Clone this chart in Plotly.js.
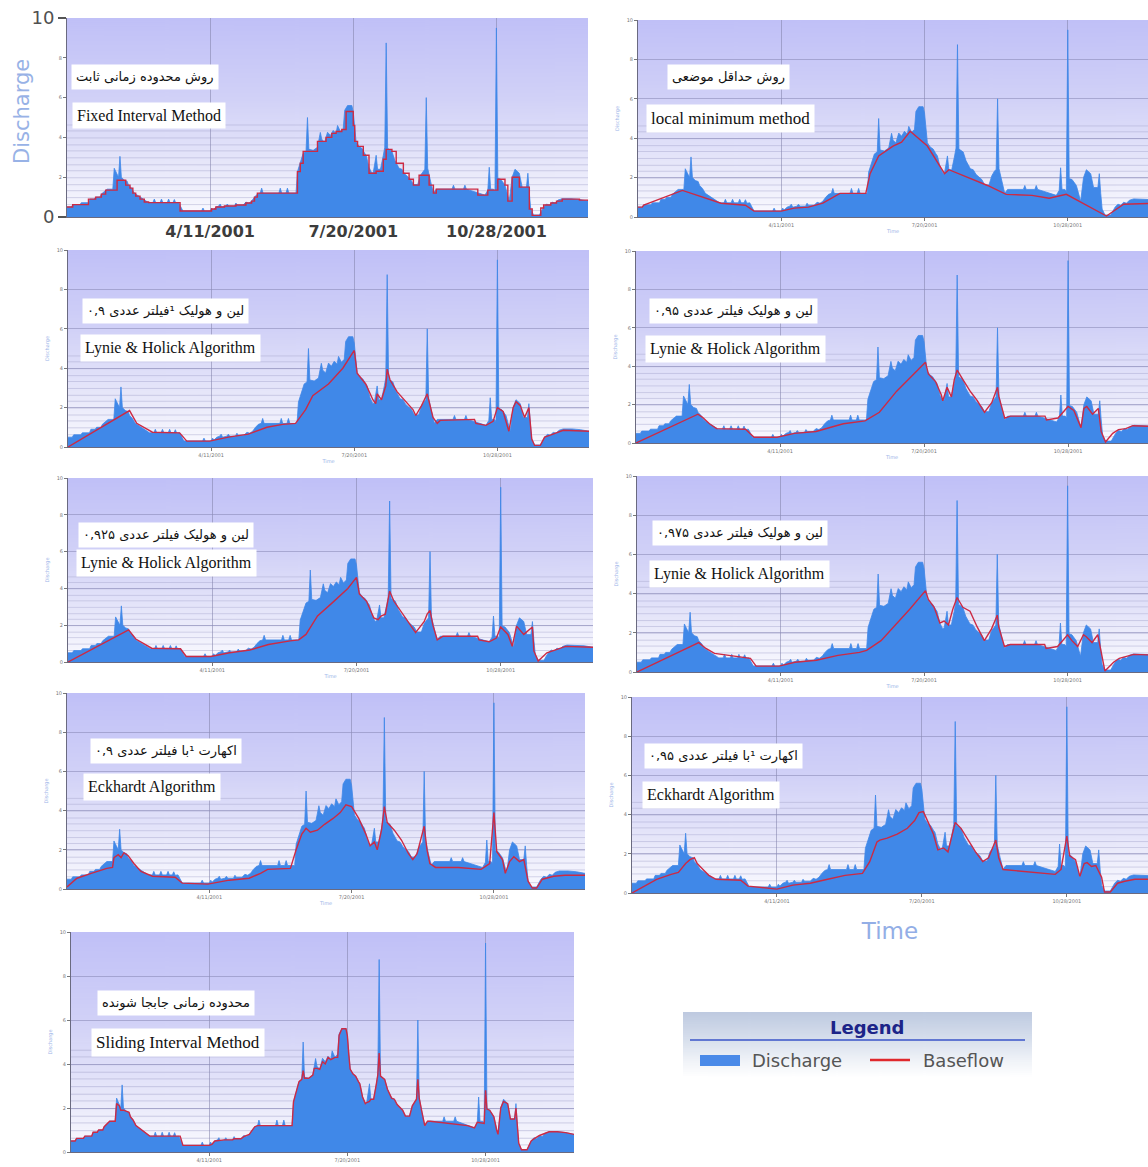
<!DOCTYPE html>
<html><head><meta charset="utf-8">
<script src="https://cdn.plot.ly/plotly-3.0.1.min.js"></script>
<style>html,body{margin:0;padding:0;background:#fff;overflow:hidden}#chart{width:1148px;height:1167px}</style>
</head><body><div id="chart"></div>
<script>
// ---------- DATA (day of year 2001, 0 = 1 Jan) ----------
const qDay = [0,3,4,9,10,15,16,19,20,23, 24,26,28,32,33,34,35,36,37,38, 40,42,43,45,47,49,51,53,55,57, 60,61,62,65,66,67,70,71,72,74, 75,76,78,79,81,94,95,96,100,101, 102,104,106,107,108,111,112,113,117,118, 119,123,125,127,129,131,133,135,136,137, 148,149,150,153,154,155,160,161,163,165, 167,168,169,172,175,176,177,178,180,182, 184,186,188,189,191,193,194,196,199,200, 201,202,204,206,208,209,211,213,214,216, 217,219,221,222,223,224,227,229,232,234, 236,240,242,245,247,249,250,251,252,254, 256,258,260,269,270,271,277,278,279,287, 292,294,295,296,298,299,300,301,303,306, 308,309,311,313,316,318,321,322,323,324, 326,330,333,335,337,339,341,343,346,352, 358,364];
const qVal = [0.5,0.5,0.62,0.62,0.72,0.72,0.9,0.9,1.0,1.0, 1.15,1.3,1.4,1.4,2.45,2.3,2.1,2.0,3.05,2.0, 1.85,1.8,1.6,1.45,1.2,1.1,1.0,0.9,0.8,0.72, 0.72,0.9,0.72,0.72,0.9,0.72,0.72,0.9,0.72,0.72, 0.88,0.7,0.72,0.55,0.3,0.3,0.45,0.3,0.3,0.45, 0.35,0.5,0.55,0.65,0.5,0.55,0.65,0.55,0.55,0.7, 0.6,0.6,0.75,0.7,0.8,1.0,1.15,1.2,1.45,1.2, 1.2,1.45,1.2,1.2,1.45,1.2,1.2,2.28,2.7,3.2, 3.3,5.0,3.4,3.35,3.5,3.82,4.25,3.9,3.76,4.26, 4.1,4.35,4.2,4.6,4.3,4.45,5.36,5.6,5.6,5.28, 4.45,3.77,3.55,3.45,3.2,3.1,2.5,2.2,2.25,3.1, 2.4,2.4,3.1,3.5,8.75,3.45,3.3,2.85,2.45,2.4, 2.16,1.9,1.63,1.63,2.1,2.35,2.4,6.0,2.45,1.8, 1.2,1.4,1.4,1.4,1.6,1.4,1.4,1.6,1.4,1.2, 1.1,1.35,2.5,1.4,1.4,1.3,9.5,1.95,1.9,1.6, 1.0,0.8,2.0,2.4,2.2,1.5,1.5,2.2,1.2,0.4, 0.1,0.1,0.5,0.65,0.6,0.75,0.7,0.85,0.92,0.92, 0.88,0.8];

// Fixed interval baseflow (step)
const fiDay = [0,4,15,20,24,27,35,41,44,46, 48,51,54,57,79,101,104,110,118,125, 129,131,133,161,163,165,175,181,185,188, 192,195,200,201,203,207,211,216,221,223, 227,230,235,239,242,246,253,256,258,287, 294,301,306,308,311,316,323,325,331,333, 338,342,346,358,364];
const fiVal = [0.5,0.62,0.9,1.0,1.15,1.35,1.85,1.6,1.45,1.2, 1.05,0.9,0.75,0.72,0.3,0.4,0.5,0.55,0.6,0.7, 0.8,1.0,1.2,2.28,2.7,3.3,3.8,4.0,4.2,4.3, 4.4,5.3,4.6,3.8,3.55,3.1,2.2,2.3,2.9,3.4, 3.3,2.7,2.2,1.9,1.6,2.1,1.6,1.2,1.4,1.1, 1.35,1.9,1.6,0.8,2.0,1.5,0.4,0.08,0.45,0.6, 0.7,0.8,0.9,0.85,0.8];
// Local minimum baseflow
const lmDay = [0,3,4,31,58,75,81,100,109,119, 129,137,141,159,162,168,178,184,190,202, 214,217,244,257,275,287,299,327,339,364];
const lmVal = [0.5,0.5,0.6,1.35,0.7,0.6,0.3,0.3,0.45,0.5, 0.7,1.05,1.2,1.2,2.2,3.1,3.6,3.8,4.35,3.6, 2.2,2.4,1.6,1.15,1.1,0.95,1.15,0.05,0.65,0.7];
// Lyne & Hollick 0.9
const lh90Day = [0,43,48,54,59,78,83,99,112,126, 139,150,159,166,171,182,192,200,202,208, 213,215,216,219,222,223,225,230,235,241, 243,247,251,252,255,258,260,284,285,292, 297,300,304,308,311,313,316,319,322,324, 326,330,333,337,341,346,364];
const lh90Val = [0,1.85,1.2,0.95,0.75,0.72,0.3,0.3,0.5,0.65, 1.0,1.15,1.2,1.9,2.6,3.2,4.0,4.9,3.75,3.2, 2.4,2.2,2.7,2.4,3.1,3.95,3.4,2.8,2.4,1.9, 1.6,2.1,2.7,2.4,1.5,1.2,1.35,1.4,1.2,1.1, 1.3,2.0,1.8,0.8,2.0,2.3,2.1,1.5,2.0,0.4, 0.08,0.08,0.5,0.6,0.7,0.85,0.8];
// Lyne & Hollick 0.95
const lh95Day = [0,43,46,51,56,76,82,98,110,125, 139,144,159,169,181,193,201,203,208,212, 213,216,219,221,223,227,232,237,242,247, 251,252,256,260,284,285,293,300,304,309, 311,313,317,321,323,326,331,335,340,345, 364];
const lh95Val = [0,1.5,1.35,1.0,0.75,0.72,0.3,0.3,0.5,0.6, 0.9,1.0,1.15,1.6,2.7,3.6,4.2,3.6,3.2,2.5, 2.2,2.9,2.4,3.3,3.8,3.3,2.7,2.2,1.6,2.1, 2.9,2.4,1.3,1.4,1.4,1.2,1.3,1.9,1.7,0.8, 1.8,1.9,1.5,1.8,0.6,0.05,0.5,0.7,0.75,0.9, 0.85];
// Lyne & Hollick 0.925
const lh925Day = [0,42,47,53,58,78,82,99,112,126, 139,154,160,165,173,183,194,200,202,207, 212,215,217,220,223,226,233,241,247,249, 251,253,256,260,284,285,292,297,300,305, 308,311,316,322,323,326,332,340,345,364];
const lh925Val = [0,1.75,1.25,1.0,0.75,0.72,0.3,0.3,0.5,0.65, 0.95,1.15,1.2,1.5,2.5,3.2,4.0,4.6,3.7,3.3, 2.4,2.3,2.5,2.6,3.85,3.3,2.5,1.6,2.2,2.6, 2.8,2.0,1.2,1.4,1.4,1.2,1.1,1.3,1.9,1.5, 0.85,1.95,1.5,1.9,0.6,0.05,0.5,0.7,0.85,0.8];
// Lyne & Hollick 0.975
const lh975Day = [0,43,48,54,79,83,99,110,125,140, 155,160,170,180,190,201,203,207,211,214, 217,220,223,227,232,237,242,247,251,252, 256,260,284,285,293,300,303,307,311,313, 317,321,323,326,332,336,341,346,364];
const lh975Val = [0,1.5,1.2,0.95,0.7,0.3,0.3,0.5,0.6,0.85, 1.0,1.1,1.6,2.4,3.2,4.15,3.7,3.3,2.5,2.6, 2.4,3.2,3.8,3.3,3.1,2.3,1.6,2.2,2.9,2.3, 1.3,1.4,1.4,1.2,1.3,1.9,1.6,1.3,1.9,1.8, 1.5,1.9,1.1,0.05,0.5,0.7,0.8,0.9,0.85];
// Eckhardt 0.9
const ek90Day = [0,7,17,28,32,33,36,38,40,43, 47,52,60,76,81,99,114,128,136,141, 157,161,165,168,171,176,181,187,192,196, 200,205,210,213,216,218,221,223,225,230, 235,240,243,246,251,253,255,259,275,291, 297,300,302,306,308,311,314,318,321,324, 327,330,334,342,350,364];
const ek90Val = [0.1,0.55,0.8,1.05,1.1,1.6,1.75,1.6,1.85,1.7, 1.3,0.9,0.65,0.6,0.3,0.25,0.45,0.55,0.8,1.0, 1.05,2.0,2.8,3.1,2.9,3.0,3.3,3.6,3.9,4.3, 4.2,3.6,2.8,2.2,2.4,2.0,3.0,4.2,3.4,3.0, 2.5,1.8,1.5,1.8,3.2,2.0,1.3,1.1,1.1,1.0, 1.3,3.9,1.9,1.5,0.8,1.4,1.65,1.4,1.5,0.4, 0.05,0.05,0.5,0.65,0.7,0.7];
// Eckhardt 0.95
const ek95Day = [0,8,17,27,32,37,40,43,45,49, 53,58,75,80,94,100,111,123,135,147, 159,164,169,171,176,183,190,195,198,201, 205,208,211,215,218,222,223,227,231,237, 242,246,251,253,256,263,280,292,296,300, 302,306,309,312,314,317,320,324,326,330, 335,340,347,364];
const ek95Val = [0,0.35,0.7,0.95,1.05,1.5,1.7,1.8,1.5,1.2, 0.9,0.7,0.65,0.35,0.25,0.2,0.4,0.5,0.7,0.9, 1.0,1.6,2.6,2.7,2.8,3.0,3.3,3.7,4.1,4.15, 3.5,3.0,2.2,2.3,2.1,3.4,3.6,3.3,2.8,2.1, 1.6,1.8,2.7,1.8,1.2,1.15,1.0,0.95,1.2,2.9, 1.9,1.7,0.85,1.5,1.55,1.35,1.4,0.8,0.05,0.05, 0.5,0.6,0.7,0.7];
// Sliding interval baseflow
const siDay = [0,3,4,9,10,15,16,19,20,23, 24,26,28,32,33,35,36,38,40,42, 43,45,47,49,51,53,55,57,79,81, 100,102,104,111,117,118,123,125,129,131, 133,135,160,161,163,165,167,168,169,172, 175,176,178,180,182,184,186,188,191,193, 194,196,199,200,201,202,204,206,208,209, 211,213,214,216,217,219,221,222,223,224, 227,229,232,234,236,240,242,245,247,249, 250,251,252,254,256,258,260,287,292,294, 299,300,301,303,306,308,309,311,313,316, 318,321,322,323,324,326,330,333,335,339, 343,346,352,358,364];
const siVal = [0.5,0.5,0.62,0.62,0.72,0.72,0.9,0.9,1.0,1.0, 1.15,1.3,1.4,1.4,2.2,2.1,1.9,1.9,1.85,1.8, 1.6,1.45,1.2,1.1,1.0,0.9,0.8,0.72,0.72,0.3, 0.3,0.35,0.5,0.55,0.55,0.6,0.6,0.7,0.8,1.0, 1.15,1.2,1.2,2.28,2.7,3.2,3.3,3.7,3.35,3.35, 3.5,3.8,3.8,3.76,4.1,4.0,4.3,4.2,4.3,4.3, 5.3,5.6,5.6,5.28,4.45,3.77,3.55,3.45,3.2,3.1, 2.5,2.2,2.25,2.3,2.4,2.4,3.1,3.5,4.5,3.45, 3.3,2.85,2.45,2.4,2.16,1.9,1.63,1.63,2.1,2.35, 2.4,3.3,2.45,1.8,1.2,1.4,1.4,1.2,1.1,1.35, 1.3,2.8,1.95,1.9,1.6,1.0,0.8,2.0,2.3,2.2, 1.5,1.5,2.0,1.2,0.4,0.1,0.1,0.5,0.6,0.75, 0.85,0.92,0.92,0.88,0.8];

const xTickVals = ['2001-04-11','2001-07-20','2001-10-28'];
const xTickText = ['4/11/2001','7/20/2001','10/28/2001'];
const yTickVals = [0,2,4,6,8,10];
const yTickText = ['0','2','4','6','8','10'];
const yBigVals = [0,10];
const yBigText = ['0','10'];
const ySmallVals = [2,4,6,8];
const ySmallText = ['2','4','6','8'];

// ---------- PANELS ----------
const panels = [
  {bd:fiDay, bv:fiVal, shape:'hv', box:[67,588,18,217], end:364, fa:'روش محدوده زمانی ثابت', en:'Fixed Interval Method', faPos:[71,77], enPos:[72,116], enSize:16},
  {bd:lmDay, bv:lmVal, shape:'linear', box:[638,1148,20,217], end:356, fa:'روش حداقل موضعی', en:'local minimum method', faPos:[667,77], enPos:[646,118], enSize:17},
  {bd:lh90Day, bv:lh90Val, shape:'linear', box:[68,589,250,447], end:364, fa:'لین و هولیک ¹فیلتر عددی ۰,۹', en:'Lynie & Holick Algorithm', faPos:[82,311], enPos:[80,348], enSize:16},
  {bd:lh95Day, bv:lh95Val, shape:'linear', box:[636,1148,251,443], end:355.5, fa:'لین و هولیک فیلتر عددی ۰,۹۵', en:'Lynie & Holick Algorithm', faPos:[649,311], enPos:[645,349], enSize:16},
  {bd:lh925Day, bv:lh925Val, shape:'linear', box:[68,593,478,662], end:364, fa:'لین و هولیک فیلتر عددی ۰,۹۲۵', en:'Lynie & Holick Algorithm', faPos:[78,535], enPos:[76,563], enSize:16},
  {bd:lh975Day, bv:lh975Val, shape:'linear', box:[637,1148,476,672], end:356, fa:'لین و هولیک فیلتر عددی ۰,۹۷۵', en:'Lynie & Holick Algorithm', faPos:[652,533], enPos:[649,574], enSize:16},
  {bd:ek90Day, bv:ek90Val, shape:'linear', box:[67,585,693,889], end:364, fa:'اکهارت ¹با فیلتر عددی ۰,۹', en:'Eckhardt Algorithm', faPos:[90,751], enPos:[83,787], enSize:16},
  {bd:ek95Day, bv:ek95Val, shape:'linear', box:[632,1148,697,893], end:356, fa:'اکهارت ¹با فیلتر عددی ۰,۹۵', en:'Eckhardt Algorithm', faPos:[644,756], enPos:[642,795], enSize:16},
  {bd:siDay, bv:siVal, shape:'linear', box:[71,574,932,1152], end:364, fa:'محدوده زمانی جابجا شونده', en:'Sliding Interval Method', faPos:[97,1003], enPos:[91,1042], enSize:17}
];

const W = 1148, H = 1167;
function dayToDate(d){ const t = Date.UTC(2001,0,1) + Math.round(d*86400000); return new Date(t).toISOString().slice(0,16).replace('T',' '); }
const px = x => x/W, py = y => 1 - y/H;

function gradUrl(stops, lines, w, h){
  const c = document.createElement('canvas'); c.width = w; c.height = h;
  const ctx = c.getContext('2d');
  const g = ctx.createLinearGradient(0,0,0,h);
  stops.forEach(s => g.addColorStop(s[0], s[1]));
  ctx.fillStyle = g; ctx.fillRect(0,0,w,h);
  if (lines) {
    ctx.fillStyle = 'rgba(165,165,205,0.45)';
    for (let k=1;k<=14;k++){ ctx.fillRect(0, Math.round(h - h*k/30), w, 1); }
  }
  return c.toDataURL('image/png');
}
const plotBg = gradUrl([[0,'rgb(192,192,247)'],[0.4,'rgb(209,209,247)'],[0.75,'rgb(232,232,250)'],[1,'rgb(250,250,255)']], true, 8, 200);
const legBg = gradUrl([[0,'rgb(190,202,224)'],[0.4,'rgb(214,222,236)'],[0.75,'rgb(240,243,248)'],[1,'rgb(255,255,255)']], false, 8, 60);

const traces = [], images = [], annotations = [], shapes = [];
const layout = {
  width: W, height: H, margin:{l:0,r:0,t:0,b:0}, paper_bgcolor:'#ffffff', plot_bgcolor:'rgba(0,0,0,0)',
  showlegend:false, font:{family:'DejaVu Sans', color:'#666'}
};
const blue = '#4088e8', red = '#cc2a44', faint = '#9ab4e8';

panels.forEach((p, i) => {
  const s = i === 0 ? '' : String(i+1);
  const [l, r, t, b] = p.box;
  traces.push({type:'scatter', mode:'lines', name:'Discharge', x:qDay.map(dayToDate), y:qVal, xaxis:'x'+s, yaxis:'y'+s,
    fill:'tozeroy', fillcolor:blue, line:{color:blue, width:0.8}, hoverinfo:'skip'});
  traces.push({type:'scatter', mode:'lines', name:'Baseflow', x:p.bd.map(dayToDate), y:p.bv, xaxis:'x'+s, yaxis:'y'+s,
    line:{color:red, width:1.4, shape:p.shape}, hoverinfo:'skip'});
  const xa = {
    domain:[px(l), px(r)], anchor:'y'+s, type:'date', range:[dayToDate(0), dayToDate(p.end)],
    tickmode:'array', tickvals:xTickVals, ticktext:xTickText, tickfont:{size:5, color:'#777'},
    ticks:'outside', ticklen:3, tickcolor:'#777', showgrid:true, gridcolor:'rgba(130,130,170,0.55)', gridwidth:1,
    showline:true, linecolor:'#6a6a80', linewidth:1, zeroline:false,
    title:{text:'Time', font:{size:5, color:faint}, standoff:2}
  };
  const ya = {
    domain:[py(b), py(t)], anchor:'x'+s, range:[0,10], tickmode:'array', tickvals:yTickVals, ticktext:yTickText,
    tickfont:{size:5, color:'#777'}, ticks:'outside', ticklen:3, tickcolor:'#777',
    showgrid:true, gridcolor:'rgba(140,140,185,0.6)', gridwidth:1, showline:true, linecolor:'#6a6a80', linewidth:1, zeroline:false,
    title:{text:'Discharge', font:{size:5, color:faint}, standoff:6}
  };
  if (i === 0) {
    xa.tickfont = {size:16, color:'#3c3c3c', family:'DejaVu Sans', weight:'bold'};
    xa.ticklen = 0; delete xa.title;
    // big labels 0 and 10 on the main axis, tiny 2..8 on an overlaying axis
    ya.tickvals = yBigVals; ya.ticktext = yBigText;
    ya.tickfont = {size:18, color:'#505050', family:'DejaVu Sans'};
    ya.ticklen = 8; ya.tickcolor = '#555'; ya.tickwidth = 1.5;
    delete ya.title;
    layout.yaxis10 = {overlaying:'y', anchor:'x', side:'left', range:[0,10], tickmode:'array', tickvals:ySmallVals, ticktext:ySmallText,
      tickfont:{size:5, color:'#777'}, ticks:'outside', ticklen:3, tickcolor:'#777', showgrid:false, showline:false, zeroline:false};
    traces.push({type:'scatter', mode:'lines', x:[], y:[], xaxis:'x', yaxis:'y10', hoverinfo:'skip', showlegend:false});
    annotations.push({text:'Discharge', xref:'paper', yref:'paper', x:px(22), y:py(112), xanchor:'center', yanchor:'middle',
      textangle:-90, showarrow:false, font:{size:21, color:'#98b2e6', family:'DejaVu Sans'}});
  }
  if (i === 7) {
    xa.title = {text:'Time', font:{size:23, color:'#93aee6', family:'DejaVu Sans'}, standoff:19};
  }
  if (i === 8) { delete xa.title; }
  layout['xaxis'+s] = xa; layout['yaxis'+s] = ya;
  images.push({source:plotBg, xref:'paper', yref:'paper', x:px(l), y:py(t), sizex:px(r)-px(l), sizey:py(t)-py(b),
    sizing:'stretch', xanchor:'left', yanchor:'top', layer:'below'});
  annotations.push({text:p.fa, xref:'paper', yref:'paper', x:px(p.faPos[0]), y:py(p.faPos[1]), xanchor:'left', yanchor:'middle',
    showarrow:false, bgcolor:'#ffffff', borderpad:4, font:{family:'DejaVu Sans', size:13, color:'#111'}});
  annotations.push({text:p.en, xref:'paper', yref:'paper', x:px(p.enPos[0]), y:py(p.enPos[1]), xanchor:'left', yanchor:'middle',
    showarrow:false, bgcolor:'#ffffff', borderpad:4, font:{family:'Liberation Serif', size:p.enSize, color:'#111'}});
});

// ---------- custom legend box ----------
images.push({source:legBg, xref:'paper', yref:'paper', x:px(683), y:py(1012), sizex:px(1032)-px(683), sizey:py(1012)-py(1077),
  sizing:'stretch', xanchor:'left', yanchor:'top', layer:'below'});
shapes.push({type:'line', xref:'paper', yref:'paper', x0:px(690), x1:px(1025), y0:py(1040), y1:py(1040), line:{color:'#3a55c8', width:1.5}});
shapes.push({type:'rect', xref:'paper', yref:'paper', x0:px(700), x1:px(740), y0:py(1066), y1:py(1055), fillcolor:'#4a8ae8', line:{width:0}});
shapes.push({type:'line', xref:'paper', yref:'paper', x0:px(870), x1:px(910), y0:py(1060), y1:py(1060), line:{color:'#e0282c', width:2.5}});
annotations.push({text:'Legend', xref:'paper', yref:'paper', x:px(867), y:py(1027), xanchor:'center', yanchor:'middle', showarrow:false,
  font:{family:'DejaVu Sans', size:18, color:'#1c2488', weight:'bold'}});
annotations.push({text:'Discharge', xref:'paper', yref:'paper', x:px(750), y:py(1060), xanchor:'left', yanchor:'middle', showarrow:false,
  font:{family:'DejaVu Sans', size:18, color:'#555'}});
annotations.push({text:'Baseflow', xref:'paper', yref:'paper', x:px(921), y:py(1060), xanchor:'left', yanchor:'middle', showarrow:false,
  font:{family:'DejaVu Sans', size:18, color:'#555'}});

layout.images = images; layout.annotations = annotations; layout.shapes = shapes;
Plotly.newPlot('chart', traces, layout, {displayModeBar:false, staticPlot:true});
</script></body></html>
